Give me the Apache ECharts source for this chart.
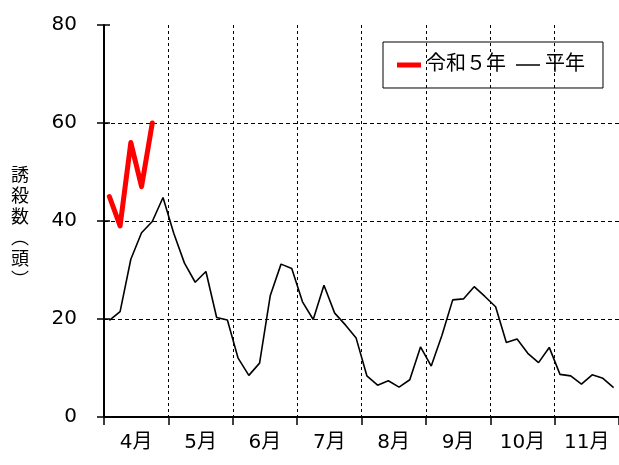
<!DOCTYPE html>
<html>
<head>
<meta charset="utf-8">
<script src="https://cdn.jsdelivr.net/npm/echarts@6/dist/echarts.min.js"></script>
<style>
  html, body { margin: 0; padding: 0; background: #fff; }
  #main { width: 619px; height: 465px; }
</style>
</head>
<body>
<div id="main"></div>
<script>
// 月ラベル（半旬ごとに6点）
var months = ['4月', '5月', '6月', '7月', '8月', '9月', '10月', '11月'];
var yTicks = [0, 20, 40, 60, 80];
// 平年（半旬値 48点）
var heinen = [
    19.7, 21.5, 32.2, 37.6, 39.9, 44.8,
    37.5, 31.4, 27.5, 29.7, 20.3, 19.8,
    12.0, 8.5, 11.0, 24.8, 31.2, 30.3,
    23.5, 19.9, 26.9, 21.2, 18.8, 16.1,
    8.4, 6.5, 7.4, 6.1, 7.6, 14.3,
    10.4, 16.7, 23.9, 24.1, 26.6, 24.6,
    22.5, 15.2, 15.9, 13.0, 11.1, 14.2,
    8.7, 8.4, 6.7, 8.6, 7.9, 6.0
];
// 令和5年
var r5 = [45, 39, 56, 47, 60];

var slots = [];
for (var i = 0; i < months.length * 6; i++) {
    slots.push(months[Math.floor(i / 6)] + '-' + (i % 6 + 1));
}

var font = "'DejaVu Sans', 'Noto Sans CJK JP'";
var chart = echarts.init(document.getElementById('main'));
var option = {
    animation: false
    , backgroundColor: '#fff'
    , textStyle: { fontFamily: font, color: '#000' }
    , grid: { left: 104, top: 25, width: 518, height: 392 }
    , legend: {
        data: [
            { name: '令和５年', icon: 'path://M0,0h24v5h-24z' }
            , { name: '平年', icon: 'path://M0,0h24v1.5h-24z' }
        ]
        , left: 383
        , top: 42
        , orient: 'horizontal'
        , borderColor: '#000'
        , borderWidth: 1
        , padding: [13, 18, 13, 14]
        , itemWidth: 24
        , itemHeight: 14
        , itemGap: 10
        , textStyle: { fontSize: 20, color: '#000', fontFamily: font }
    }
    , graphic: [{
        type: 'text'
        , left: 11
        , top: 166
        , style: {
            text: '誘\n殺\n数\n︵\n頭\n︶'
            , font: '18px ' + font
            , lineHeight: 21
            , fill: '#000'
            , align: 'center'
        }
    }]
    , xAxis: [
        {
            type: 'category'
            , data: months
            , boundaryGap: true
            , axisLine: { show: true, lineStyle: { color: '#000', width: 2 } }
            , axisTick: { show: true, interval: 0, length: 8, lineStyle: { color: '#000', width: 1.5 } }
            , axisLabel: { interval: 0, margin: 16, fontSize: 20, color: '#000', fontFamily: font }
            , splitLine: {
                show: true
                , interval: 0
                , lineStyle: {
                    color: ['rgba(0,0,0,0)', '#000', '#000', '#000', '#000', '#000', '#000', '#000', 'rgba(0,0,0,0)']
                    , width: 1
                    , type: [3, 3]
                }
            }
        }
        , {
            type: 'category'
            , data: slots
            , boundaryGap: true
            , show: false
        }
    ]
    , yAxis: [
        {
            type: 'value'
            , min: yTicks[0]
            , max: yTicks[yTicks.length - 1]
            , interval: 20
            , axisLine: { show: true, lineStyle: { color: '#000', width: 2 } }
            , axisTick: { show: true, length: 7, lineStyle: { color: '#000', width: 1.5 } }
            , axisLabel: { margin: 27, fontSize: 20, color: '#000', fontFamily: font }
            , splitLine: {
                show: true
                , lineStyle: {
                    color: ['rgba(0,0,0,0)', '#000', '#000', '#000', 'rgba(0,0,0,0)']
                    , width: 1
                    , type: [4, 3]
                }
            }
        }
        , {
            type: 'value'
            , position: 'left'
            , min: yTicks[0]
            , max: yTicks[yTicks.length - 1]
            , interval: 20
            , axisLine: { show: false }
            , axisTick: { show: true, inside: true, length: 6, lineStyle: { color: '#000', width: 1.5 } }
            , axisLabel: { show: false }
            , splitLine: { show: false }
        }
    ]
    , series: [
        {
            name: '平年'
            , type: 'line'
            , xAxisIndex: 1
            , data: heinen
            , symbol: 'none'
            , color: '#000'
            , lineStyle: { color: '#000', width: 1.6 }
        }
        , {
            name: '令和５年'
            , type: 'line'
            , xAxisIndex: 1
            , data: r5
            , symbol: 'none'
            , color: '#ff0000'
            , lineStyle: { color: '#ff0000', width: 5, cap: 'round', join: 'round' }
        }
    ]
};
chart.setOption(option);
</script>
</body>
</html>
